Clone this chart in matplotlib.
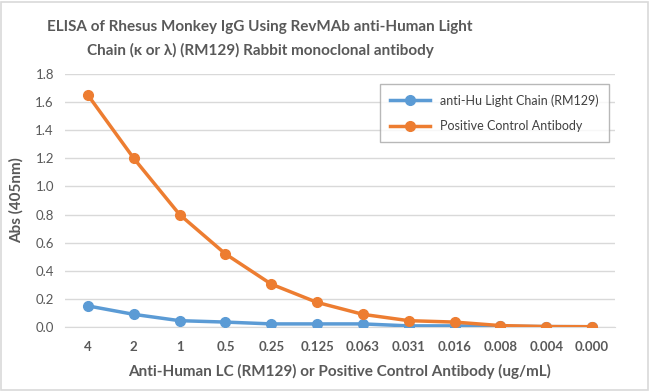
import matplotlib
matplotlib.use("Agg")
import matplotlib.pyplot as plt
from matplotlib.patches import Rectangle

plt.rcParams['font.family'] = ['Lato', 'DejaVu Sans']

categories = ["4", "2", "1", "0.5", "0.25", "0.125", "0.063", "0.031", "0.016", "0.008", "0.004", "0.000"]
anti_hu = [0.15, 0.09, 0.045, 0.035, 0.022, 0.022, 0.022, 0.008, 0.008, 0.006, 0.003, 0.002]
positive = [1.65, 1.20, 0.80, 0.52, 0.305, 0.175, 0.09, 0.045, 0.035, 0.01, 0.003, 0.002]
yticks = [0.0, 0.2, 0.4, 0.6, 0.8, 1.0, 1.2, 1.4, 1.6, 1.8]

gray = "#595959"
fig = plt.figure(figsize=(6.5, 3.91), dpi=100)
fig.patches.append(Rectangle((0.002, 0.003), 0.995, 0.993, transform=fig.transFigure,
                             fill=False, edgecolor="#d9d9d9", linewidth=1.2))
ax = fig.add_axes([65/650, 1 - 327/391, (615-65)/650, (327-74)/391])

x = list(range(len(categories)))
ax.plot(x, anti_hu, color="#5B9BD5", linewidth=2.5, marker="o", markersize=7,
        label="anti-Hu Light Chain (RM129)", zorder=3)
ax.plot(x, positive, color="#ED7D31", linewidth=2.5, marker="o", markersize=7,
        label="Positive Control Antibody", zorder=3)

ax.set_xlim(-0.5, len(categories) - 0.5)
ax.set_ylim(0, 1.8)
ax.set_yticks(yticks)
ax.set_yticklabels([f"{v:.1f}" for v in yticks], color=gray, fontsize=9.5)
ax.set_xticks(x)
ax.set_xticklabels(categories, color=gray, fontsize=9.5, fontweight="bold")
ax.tick_params(length=0, pad=10)
ax.tick_params(axis='y', pad=8)
ax.grid(axis='y', color="#d9d9d9", linewidth=1)
ax.set_axisbelow(True)
for s in ["top", "right", "left"]:
    ax.spines[s].set_visible(False)
ax.spines["bottom"].set_color("#d9d9d9")

ax.set_ylabel("Abs (405nm)", color=gray, fontsize=11, fontweight="bold", labelpad=8)
ax.set_xlabel("Anti-Human LC (RM129) or Positive Control Antibody (ug/mL)", color=gray,
              fontsize=11, fontweight="bold", labelpad=8)
fig.text(0.40, 0.95, "ELISA of Rhesus Monkey IgG Using RevMAb anti-Human Light\nChain (\u03ba or \u03bb) (RM129) Rabbit monoclonal antibody",
         color=gray, fontsize=11, fontweight="bold", ha="center", va="top",
         multialignment="center", linespacing=1.75)

leg = ax.legend(loc="upper right", bbox_to_anchor=(1.0, 0.985), fontsize=9, frameon=True,
                fancybox=False, edgecolor="#a6a6a6", borderpad=0.8, labelspacing=1.1,
                handlelength=3.2, labelcolor="#404040")
leg.get_frame().set_linewidth(1)

fig.savefig("out.png", dpi=100)
